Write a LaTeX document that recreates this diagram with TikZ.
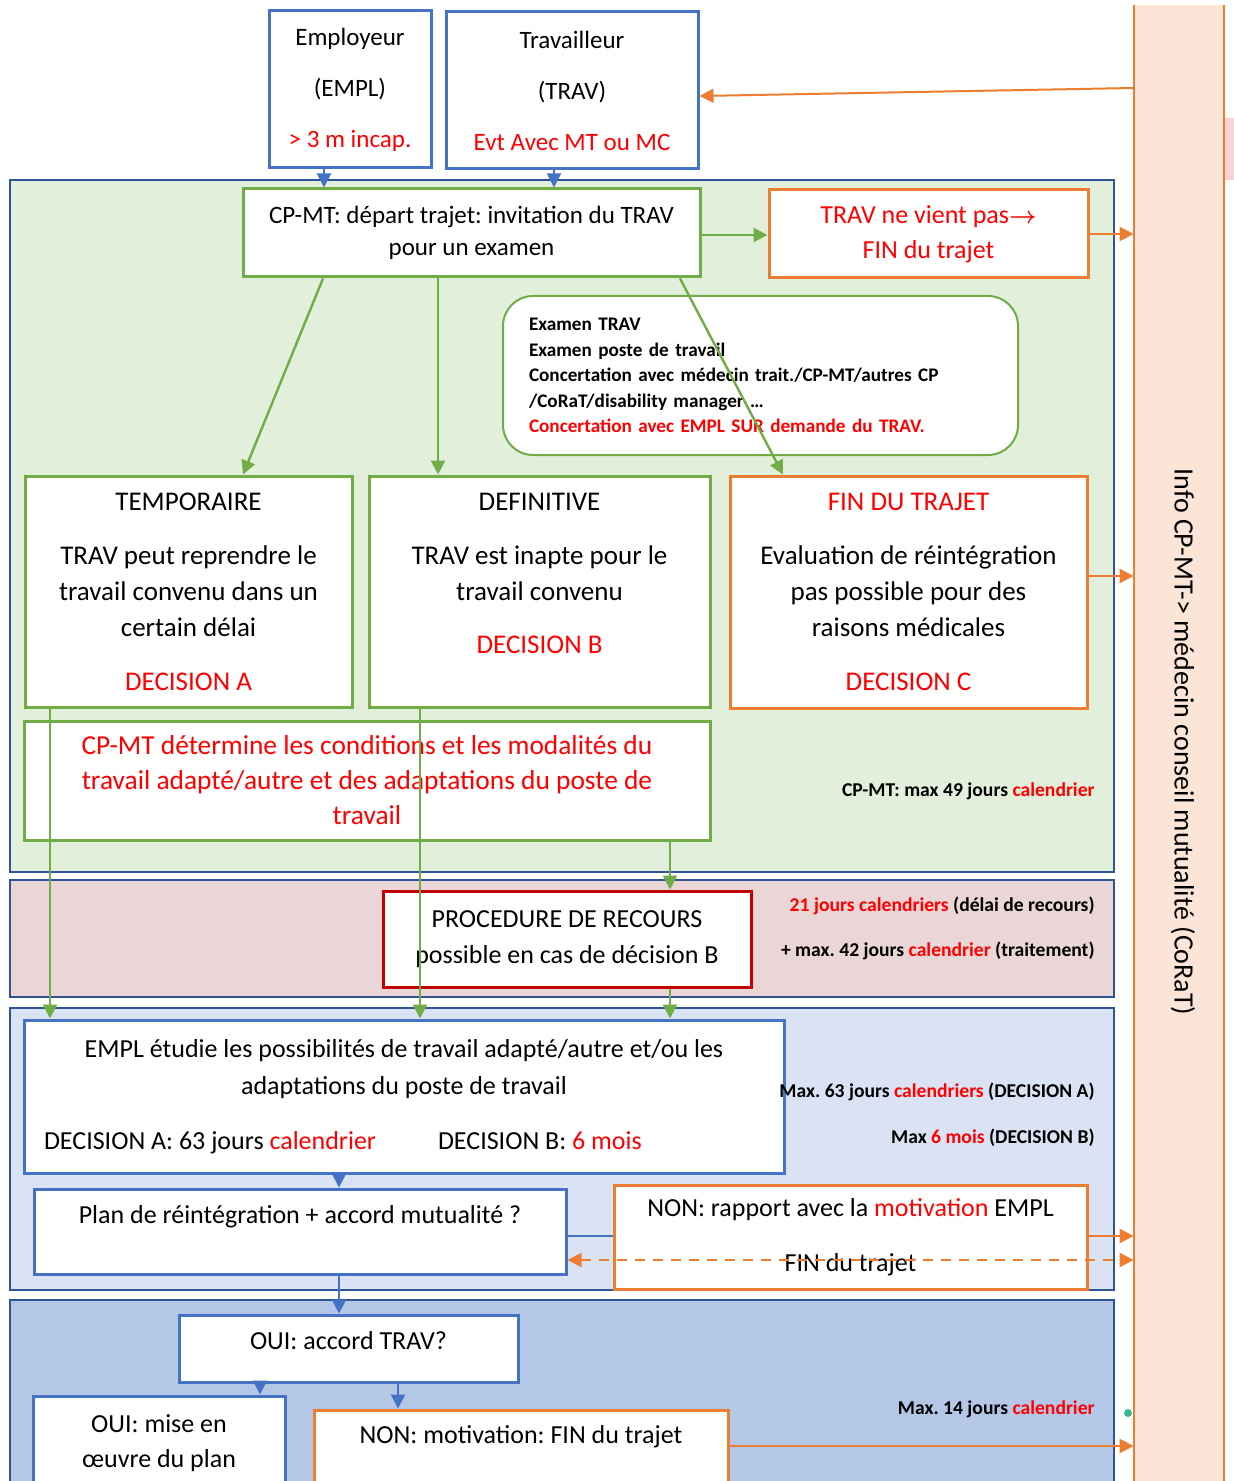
\documentclass[tikz,border=0pt]{standalone}
\usepackage{fontspec}
\setmainfont{Carlito}
\usetikzlibrary{arrows.meta}

\definecolor{boxblue}{HTML}{4472C4}
\definecolor{boxgreen}{HTML}{70AD47}
\definecolor{boxorange}{HTML}{ED7D31}
\definecolor{boxred}{HTML}{C00000}
\definecolor{txtred}{HTML}{FF0000}
\definecolor{zoneline}{HTML}{2F5597}
\definecolor{zonegreen}{HTML}{E2EFDA}
\definecolor{zonepink}{HTML}{EAD6D6}
\definecolor{zonelight}{HTML}{DAE3F3}
\definecolor{zonedark}{HTML}{B4C7E7}
\definecolor{peach}{HTML}{FBE5D6}
\definecolor{sliver}{HTML}{F8D3D3}
\definecolor{teal}{HTML}{3CB49A}

\newcommand{\rouge}[1]{\textcolor{txtred}{#1}}
\frenchspacing

\tikzset{
  box/.style={draw, line width=1.5pt, fill=white, align=center, inner sep=0pt},
  bluebox/.style={box, draw=boxblue},
  greenbox/.style={box, draw=boxgreen},
  orangebox/.style={box, draw=boxorange},
  redbox/.style={box, draw=boxred},
  zone/.style={draw=zoneline, line width=0.75pt},
  tip/.style={-{Triangle[length=7pt,width=7pt]}},
  bluearrow/.style={tip, draw=boxblue, fill=boxblue, line width=1pt},
  greenarrow/.style={tip, draw=boxgreen, fill=boxgreen, line width=1.2pt},
  orangearrow/.style={tip, draw=boxorange, fill=boxorange, line width=1pt},
  note/.style={anchor=mid east, inner sep=0pt, font=\fontsize{9.8}{12}\selectfont\bfseries},
  big/.style={font=\fontsize{13.5}{18}\selectfont},
}

\begin{document}
\begin{tikzpicture}[x=0.5pt,y=-0.5pt]
\useasboundingbox (0,0) rectangle (1234,1481);
\clip (0,0) rectangle (1234,1481);
\fill[white] (0,0) rectangle (1234,1481);

\draw[zone, fill=zonegreen] (10,180) rectangle (1114,872);
\draw[zone, fill=zonepink] (10,880) rectangle (1114,997);
\draw[zone, fill=zonelight] (10,1008) rectangle (1114,1290);
\draw[zone, fill=zonedark] (10,1300) rectangle (1114,1500);

\node[fill=peach, inner sep=0pt, minimum width=45pt, minimum height=747.5pt] (info) at (1179,752.5) {};
\draw[boxorange, line width=1pt] (info.north west) -- (info.south west);
\draw[boxorange, line width=1pt] (info.north east) -- (info.south east);
\fill[sliver] (1225,118) rectangle (1234,180);
\fill[teal] (1128,1413) circle (4);
\node[rotate=-90, font=\fontsize{14}{16}\selectfont] (infolabel) at (1183,742) {Info CP-MT-> médecin conseil mutualité (CoRaT)};

\node[bluebox, minimum width=81pt, minimum height=78.5pt, font=\fontsize{12.5}{25.5}\selectfont] (employeur) at (350,89.5)
  {Employeur\\(EMPL)\\\rouge{> 3 m incap.}};
\node[bluebox, minimum width=126pt, minimum height=78.5pt, font=\fontsize{12.5}{25.5}\selectfont] (travailleur) at (572,90.5)
  {Travailleur\\(TRAV)\\\rouge{Evt Avec MT ou MC}};

\node[greenbox, minimum width=228.5pt, minimum height=44pt, font=\fontsize{12.5}{16}\selectfont] (depart) at (471.5,233)
  {CP-MT: départ trajet: invitation du TRAV\\pour un examen};
\node[orangebox, minimum width=159.5pt, minimum height=44pt, font=\fontsize{13}{17.5}\selectfont] (vientpas) at (928.5,234)
  {\rouge{TRAV ne vient pas{\boldmath$\rightarrow$}}\\\rouge{FIN du trajet}};

\node[greenbox, line width=1pt, rounded corners=15pt, align=left, text width=231.5pt, inner xsep=13pt,
  minimum width=257.5pt, minimum height=79.5pt, font=\fontsize{9.6}{12.75}\selectfont\bfseries] (examen) at (760.5,375.5)
  {Examen TRAV\\Examen poste de travail\\Concertation avec médecin trait./CP-MT/autres CP\\/CoRaT/disability manager …\\\rouge{Concertation avec EMPL SUR demande du TRAV.}};

\node[greenbox, big, minimum width=163.5pt, minimum height=115.5pt] (temporaire) at (188.5,591.5)
  {TEMPORAIRE\\[9pt]TRAV peut reprendre le\\travail convenu dans un\\certain délai\\[9pt]\rouge{DECISION A}};
\node[greenbox, big, minimum width=170.5pt, minimum height=115.5pt] (definitive) at (539.5,591.5)
  {DEFINITIVE\\[9pt]TRAV est inapte pour le\\travail convenu\\[8.5pt]\rouge{DECISION B}\\[0.5pt]\phantom{DECISION A}};
\node[orangebox, big, minimum width=178.5pt, minimum height=116pt] (finC) at (908.5,592)
  {\rouge{FIN DU TRAJET}\\[9pt]Evaluation de réintégration\\pas possible pour des\\raisons médicales\\[9pt]\rouge{DECISION C}};

\node[greenbox, minimum width=343pt, minimum height=59.5pt, font=\fontsize{13.7}{17.5}\selectfont] (conditions) at (367,780.5)
  {\rouge{CP-MT détermine les conditions et les modalités du}\\\rouge{travail adapté/autre et des adaptations du poste de}\\\rouge{travail}};
\node[note] (note49) at (1095,792) {CP-MT: max 49 jours \rouge{calendrier}};

\node[redbox, minimum width=184pt, minimum height=48pt, font=\fontsize{13}{18}\selectfont] (recours) at (567,939)
  {PROCEDURE DE RECOURS\\possible en cas de décision B};
\node[note] (note21) at (1095,907) {\rouge{21 jours calendriers} (délai de recours)};
\node[note] (note42) at (1095,952) {+ max. 42 jours \rouge{calendrier} (traitement)};

\node[bluebox, minimum width=380pt, minimum height=76.5pt, font=\fontsize{13}{18.5}\selectfont] (etude) at (404,1096.5)
  {EMPL étudie les possibilités de travail adapté/autre et/ou les\\adaptations du poste de travail\\[9pt]
   \makebox[360pt][l]{\makebox[197pt][l]{DECISION A: 63 jours \rouge{calendrier}}DECISION B: \rouge{6 mois}}};
\node[note] (note63) at (1095,1093) {Max. 63 jours \rouge{calendriers} (DECISION A)};
\node[note] (note6) at (1095,1139) {Max \rouge{6 mois} (DECISION B)};

\node[bluebox, minimum width=266pt, minimum height=42.5pt, text height=9pt, text depth=17pt, font=\fontsize{13}{16}\selectfont] (plan) at (300,1231.5)
  {Plan de réintégration + accord mutualité ?};
\node[orangebox, minimum width=236.5pt, minimum height=52pt, font=\fontsize{13}{27.5}\selectfont] (nonrapport) at (850.5,1237.5)
  {NON: rapport avec la \rouge{motivation} EMPL\\FIN du trajet};

\node[bluebox, minimum width=169.5pt, minimum height=33.5pt, text height=9pt, text depth=8.5pt, font=\fontsize{13}{16}\selectfont] (accord) at (348.5,1348.5)
  {OUI: accord TRAV?};
\node[bluebox, minimum width=126pt, minimum height=47pt, font=\fontsize{13}{17.5}\selectfont] (mise) at (159,1443)
  {OUI: mise en\\œuvre du plan};
\node[orangebox, minimum width=207pt, minimum height=50pt, text height=9pt, text depth=26pt, font=\fontsize{13}{16}\selectfont] (nonmotiv) at (521,1460)
  {NON: motivation: FIN du trajet};
\node[note] (note14) at (1095,1410) {Max. 14 jours \rouge{calendrier}};

\draw[bluearrow] (employeur.south -| 324,0) -- (depart.north -| 324,0);
\draw[bluearrow] (travailleur.south -| 554,0) -- (depart.north -| 554,0);
\draw[orangearrow] (info.west |- 0,88) -- (travailleur.east |- 0,96);
\draw[greenarrow] (depart.east |- 0,235) -- (vientpas.west |- 0,235);
\draw[orangearrow] (vientpas.east |- 0,234) -- (info.west |- 0,234);
\draw[greenarrow] (depart.south -| 323,0) -- (temporaire.north -| 243,0);
\draw[greenarrow] (depart.south -| 438,0) -- (definitive.north -| 438,0);
\draw[greenarrow] (depart.south -| 680,0) -- (finC.north -| 783,0);
\draw[orangearrow] (finC.east |- 0,576) -- (info.west |- 0,576);

\draw[greenarrow] (temporaire.south -| 50,0) -- (etude.north -| 50,0);
\draw[greenarrow] (definitive.south -| 420,0) -- (etude.north -| 420,0);
\draw[greenarrow] (conditions.south -| 670,0) -- (recours.north -| 670,0);
\draw[greenarrow] (recours.south -| 670,0) -- (etude.north -| 670,0);

\draw[bluearrow] (etude.south -| 339,0) -- (plan.north -| 339,0);
\draw[boxblue, line width=1pt] (plan.east |- 0,1236) -- (nonrapport.west |- 0,1236);
\draw[orangearrow] (nonrapport.east |- 0,1236) -- (info.west |- 0,1236);
\draw[{Triangle[length=7pt,width=7pt]}-{Triangle[length=7pt,width=7pt]}, boxorange, line width=1pt, dash pattern=on 5pt off 4pt] (plan.east |- 0,1260) -- (info.west |- 0,1260);

\draw[bluearrow] (plan.south -| 339,0) -- (accord.north -| 339,0);
\draw[bluearrow] (accord.south -| 260,0) -- (mise.north -| 260,0);
\draw[bluearrow] (accord.south -| 398,0) -- (nonmotiv.north -| 398,0);
\draw[orangearrow] (nonmotiv.east |- 0,1446) -- (info.west |- 0,1446);
\end{tikzpicture}
\end{document}
